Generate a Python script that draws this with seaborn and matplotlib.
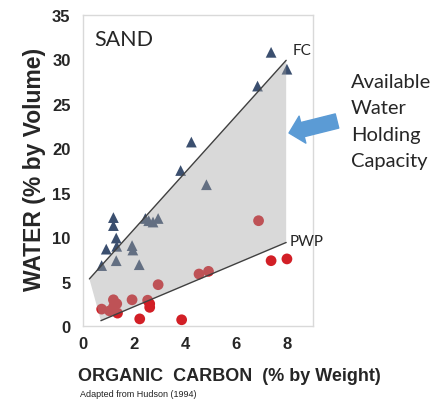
import numpy as np
import pandas as pd
import matplotlib
matplotlib.use('Agg')
import matplotlib.pyplot as plt
import seaborn as sns

# field capacity points (triangles)
fc_x = [0.73, 0.91, 1.19, 1.19, 1.30, 1.32, 1.30, 1.92, 1.95, 2.20, 2.44, 2.57, 2.74, 2.94,
        3.82, 4.83, 4.24, 6.83, 7.36, 7.98]
fc_y = [6.8, 8.65, 12.2, 11.3, 9.9, 8.97, 7.35, 9.05, 8.55, 6.9, 12.1, 11.85, 11.7, 12.1,
        17.5, 15.9, 20.7, 27.0, 30.8, 28.9]

# permanent wilting point points (circles)
pwp_x = [0.73, 1.04, 1.19, 1.32, 1.35, 1.20, 1.92, 2.22, 2.53, 2.61, 2.61, 2.94, 3.86,
         4.54, 4.91, 6.87, 7.36, 7.98]
pwp_y = [1.9, 1.7, 2.95, 2.5, 1.45, 2.2, 2.95, 0.8, 2.9, 2.5, 2.1, 4.65, 0.7,
         5.85, 6.15, 11.85, 7.35, 7.55]

# trend lines
fc_line_x = [0.25, 7.95]
fc_line_y = [5.3, 29.9]
pwp_line_x = [0.7, 7.95]
pwp_line_y = [0.6, 9.4]

x_ticks = [0, 2, 4, 6, 8]
y_ticks = [0, 5, 10, 15, 20, 25, 30, 35]

fc = pd.DataFrame({'oc': fc_x, 'water': fc_y})
pwp = pd.DataFrame({'oc': pwp_x, 'water': pwp_y})

sns.set_style('white')
plt.rcParams['font.family'] = ['Liberation Sans', 'DejaVu Sans']

fig = plt.figure(figsize=(4.36, 4.02), dpi=100)
ax = fig.add_axes([83/436, 1 - 327/402, 230/436, 311/402])

sns.scatterplot(data=fc, x='oc', y='water', marker='^', s=60, color='#3B4F6F',
                edgecolor='none', ax=ax, zorder=2)
sns.scatterplot(data=pwp, x='oc', y='water', marker='o', s=60, color='#D21F26',
                edgecolor='none', ax=ax, zorder=2)

# shaded available water region laid over the points
poly_x = [fc_line_x[0], fc_line_x[1], pwp_line_x[1], pwp_line_x[0]]
poly_y = [fc_line_y[0], fc_line_y[1], pwp_line_y[1], pwp_line_y[0]]
ax.fill(poly_x, poly_y, color='#A0A0A0', alpha=0.4, lw=0, zorder=3)
ax.plot(fc_line_x, fc_line_y, color='#404040', lw=1, zorder=4)
ax.plot(pwp_line_x, pwp_line_y, color='#404040', lw=1, zorder=4)

ax.set_xlim(0, 9)
ax.set_ylim(0, 35)
ax.set_xticks(x_ticks)
ax.set_yticks(y_ticks)
ax.set_xlabel('')
ax.set_ylabel('')
for sp in ax.spines.values():
    sp.set_color('#D9D9D9')
    sp.set_linewidth(1)
ax.tick_params(axis='both', direction='in', length=5, color='#D9D9D9', labelsize=12)
ax.tick_params(axis='x', pad=7)
ax.tick_params(axis='y', pad=9)
for lab in ax.get_xticklabels() + ax.get_yticklabels():
    lab.set_fontweight('bold')

ax.text(0.45, 32.3, 'SAND', fontsize=15.5, family='Lato', va='center', ha='left')
ax.text(8.2, 31.1, 'FC', fontsize=11, family='Lato', va='center', ha='left')
ax.text(8.1, 9.6, 'PWP', fontsize=11, family='Lato', va='center', ha='left')

fig.text(351/436, 1 - 122/402, 'Available\nWater\nHolding\nCapacity', fontsize=14.5,
         family='Lato', va='center', ha='left', linespacing=1.65)

ax.annotate('', xy=(289, 402 - 134), xytext=(337, 402 - 122), xycoords='figure pixels',
            textcoords='figure pixels',
            arrowprops=dict(arrowstyle='simple,head_width=2.0,head_length=1.0,tail_width=1.05',
                            mutation_scale=10, color='#5B9BD5', shrinkA=0, shrinkB=0))

fig.text(35/436, 1 - 169/402, 'WATER (% by Volume)', rotation=90, fontsize=16.5,
         fontweight='bold', va='center', ha='center')
fig.text(229/436, 1 - 377/402, 'ORGANIC  CARBON  (% by Weight)', fontsize=13,
         fontweight='bold', va='center', ha='center')
fig.text(80/436, 1 - 395/402, 'Adapted from Hudson (1994)', fontsize=6.5,
         va='center', ha='left', color='#222222')

fig.savefig('out.png', dpi=100)
